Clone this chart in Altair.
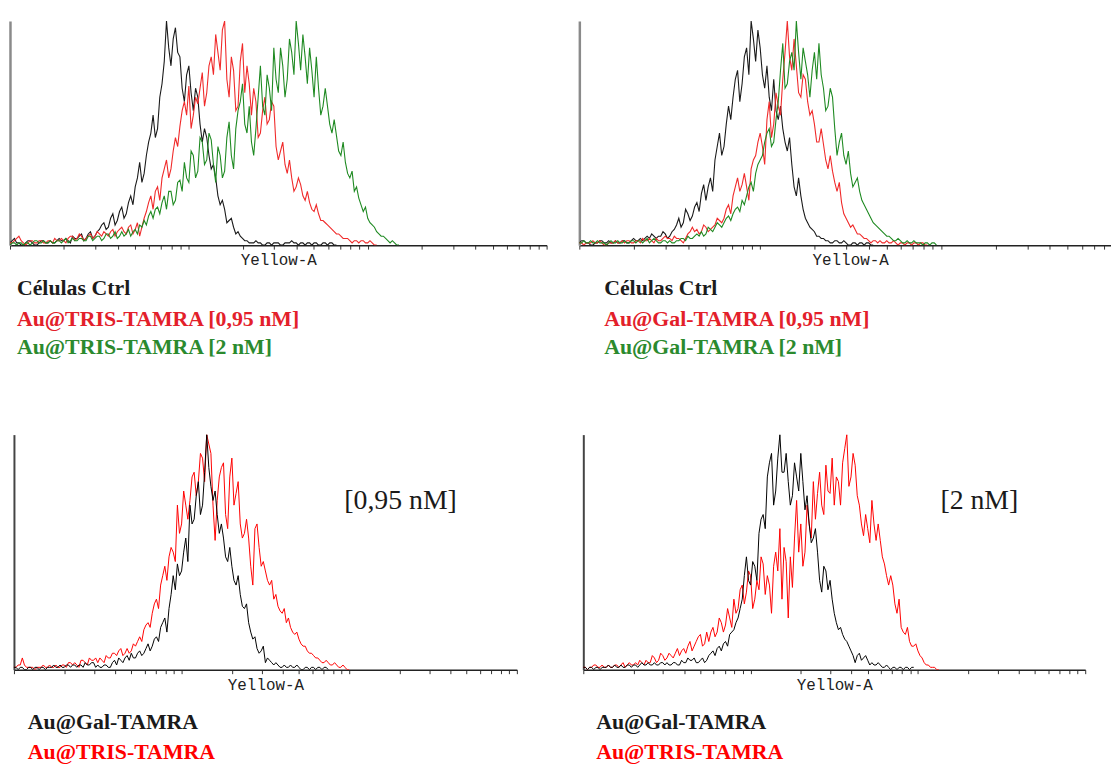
import math
import altair as alt
import pandas as pd

STEP = 0.025  # decades between the listed channels; *_mid lists hold the half-way channels

# ---------------- Panel A (top-left): Ctrl / Au@TRIS-TAMRA ----------------
a_ctrl = [1, 3, 1, 0, 2, 1, 0, 2, 1, 2,
          1, 3, 2, 2, 4, 3, 5, 3, 6, 4,
          7, 10, 8, 14, 11, 17, 14, 22, 26, 37,
          32, 46, 58, 52, 72, 100, 80, 97, 84, 64,
          80, 60, 66, 46, 48, 34, 30, 18, 16, 11,
          8, 6, 3, 2, 1, 2, 1, 0, 1, 1,
          1, 0, 1, 2, 1, 1, 0, 1, 1, 0,
          1, 0, 1, 0]
a_ctrl_mid = [2, 1, 0, 1, 2, 0, 1, 2, 1, 1,
              2, 2, 3, 1, 3, 4, 2, 5, 3, 6,
              9, 7, 12, 9, 15, 12, 19, 18, 30, 28,
              40, 50, 48, 66, 82, 88, 92, 86, 70, 76,
              68, 70, 54, 52, 40, 36, 22, 20, 10, 12,
              5, 4, 2, 1, 1, 1, 0, 1, 0, 1,
              0, 1, 1, 1, 0, 1, 1, 0, 1, 0,
              1, 1, 0]
a_tris095 = [1, 2, 4, 1, 1, 2, 1, 2, 1, 2,
             3, 2, 2, 3, 4, 3, 4, 3, 5, 4,
             5, 6, 4, 7, 6, 8, 5, 9, 7, 4,
             12, 19, 16, 26, 30, 38, 34, 48, 53, 64,
             71, 58, 63, 77, 68, 84, 94, 78, 100, 66,
             78, 62, 90, 80, 58, 64, 50, 66, 56, 62,
             38, 46, 32, 30, 26, 27, 20, 19, 15, 14,
             11, 9, 7, 5, 4, 3, 2, 2, 1, 2,
             1, 1, 0]
a_tris095_mid = [1, 3, 2, 0, 2, 1, 2, 1, 2, 1,
                 2, 3, 1, 4, 2, 5, 2, 4, 3, 6,
                 4, 5, 6, 4, 7, 6, 8, 5, 10, 8,
                 15, 22, 24, 20, 34, 30, 42, 44, 60, 58,
                 52, 66, 70, 62, 80, 76, 86, 96, 74, 84,
                 60, 82, 68, 72, 70, 48, 60, 54, 64, 44,
                 42, 36, 38, 24, 30, 22, 24, 16, 18, 11,
                 10, 8, 6, 5, 3, 3, 1, 2, 2, 1,
                 2, 0]
a_tris2 = [0, 1, 1, 0, 1, 1, 2, 1, 1, 2,
           1, 2, 2, 1, 3, 2, 3, 2, 4, 3,
           4, 3, 5, 4, 3, 6, 5, 4, 7, 9,
           11, 13, 12, 17, 19, 16, 24, 20, 29, 37,
           28, 40, 33, 46, 38, 47, 28, 40, 33, 55,
           34, 60, 72, 50, 46, 52, 80, 58, 70, 88,
           68, 80, 74, 86, 100, 78, 84, 88, 66, 70,
           62, 62, 50, 49, 40, 37, 30, 24, 21, 15,
           12, 9, 6, 4, 3, 1, 1, 0]
a_tris2_mid = [1, 0, 1, 1, 0, 2, 1, 2, 1, 1,
               2, 1, 3, 2, 2, 3, 2, 4, 2, 4,
               2, 5, 3, 6, 4, 4, 7, 6, 5, 8,
               9, 15, 16, 14, 22, 24, 18, 28, 24, 30,
               42, 30, 48, 36, 50, 36, 44, 30, 48, 40,
               52, 64, 54, 62, 40, 66, 62, 76, 60, 74,
               88, 66, 92, 76, 90, 94, 72, 78, 84, 58,
               70, 54, 56, 42, 46, 32, 33, 26, 18, 17,
               10, 8, 5, 4, 2, 2, 0]

# ---------------- Panel B (top-right): Ctrl / Au@Gal-TAMRA ----------------
b_ctrl = [1, 2, 1, 0, 1, 2, 1, 1, 2, 1,
          2, 1, 3, 2, 2, 4, 5, 3, 4, 5,
          4, 7, 12, 10, 14, 13, 19, 23, 20, 30,
          38, 50, 44, 62, 66, 78, 72, 88, 100, 82,
          88, 70, 66, 74, 56, 52, 42, 36, 22, 22,
          12, 8, 6, 4, 3, 2, 1, 2, 1, 1,
          0, 1, 1, 0, 1, 0]
b_ctrl_mid = [2, 1, 0, 1, 2, 1, 2, 1, 1, 2,
              1, 2, 2, 3, 3, 3, 4, 4, 6, 3,
              6, 9, 8, 16, 11, 17, 15, 27, 26, 24,
              44, 40, 54, 56, 74, 64, 84, 76, 92, 96,
              76, 80, 60, 60, 62, 46, 48, 26, 30, 16,
              10, 7, 4, 3, 2, 1, 2, 1, 2, 0,
              1, 0, 1, 1, 0]
b_gal095 = [1, 0, 1, 2, 1, 1, 0, 1, 2, 1,
            1, 2, 1, 2, 3, 2, 2, 3, 2, 4,
            3, 4, 3, 1, 5, 8, 7, 6, 8, 7,
            9, 11, 12, 18, 22, 30, 27, 26, 34, 40,
            50, 36, 64, 54, 62, 74, 100, 78, 80, 66,
            74, 58, 54, 46, 45, 34, 33, 24, 19, 12,
            8, 7, 5, 3, 2, 2, 1, 1, 2, 1,
            1, 1, 0, 1, 1, 0, 1, 0]
b_gal095_mid = [1, 1, 1, 1, 2, 0, 1, 1, 1, 2,
                2, 1, 2, 1, 2, 3, 1, 2, 3, 3,
                2, 3, 2, 3, 6, 6, 5, 9, 6, 8,
                12, 10, 16, 14, 26, 24, 32, 20, 38, 46,
                44, 56, 48, 68, 58, 86, 84, 92, 68, 76,
                64, 60, 46, 52, 38, 40, 28, 28, 14, 10,
                9, 5, 4, 3, 1, 2, 2, 1, 1, 2,
                0, 1, 1, 0, 1, 1, 0]
b_gal2 = [1, 2, 1, 1, 2, 1, 0, 2, 1, 1,
          2, 1, 2, 2, 1, 3, 2, 2, 1, 2,
          2, 1, 2, 3, 4, 3, 5, 6, 5, 7,
          8, 9, 10, 13, 14, 17, 20, 22, 28, 32,
          38, 46, 52, 46, 64, 90, 72, 86, 100, 74,
          82, 66, 86, 90, 70, 62, 66, 40, 50, 36,
          32, 28, 24, 18, 14, 10, 8, 6, 4, 3,
          2, 2, 1, 1, 2, 1, 0, 1, 1, 0]
b_gal2_mid = [1, 1, 2, 1, 1, 1, 1, 1, 2, 1,
              1, 2, 1, 2, 2, 1, 3, 1, 2, 1,
              1, 2, 3, 2, 3, 4, 4, 4, 8, 6,
              10, 8, 12, 11, 16, 15, 18, 26, 24, 36,
              40, 50, 44, 56, 78, 70, 82, 78, 86, 88,
              76, 78, 74, 76, 60, 70, 52, 46, 40, 42,
              26, 30, 20, 16, 12, 9, 7, 5, 4, 2,
              3, 1, 2, 1, 1, 1, 1, 0, 1]

# ---------------- Panel C (bottom-left): 0,95 nM ----------------
c_gal = [1, 0, 1, 0, 1, 1, 0, 1, 1, 1,
         1, 2, 1, 2, 2, 1, 2, 3, 2, 3,
         2, 1, 2, 1, 4, 5, 3, 6, 7, 5,
         8, 7, 11, 10, 14, 18, 22, 26, 40, 45,
         42, 56, 70, 64, 80, 70, 100, 78, 76, 58,
         56, 46, 44, 36, 32, 26, 20, 13, 9, 8,
         3, 4, 2, 2, 1, 1, 2, 1, 1, 0,
         1, 1, 0, 1, 1, 0]
c_gal_mid = [1, 1, 0, 1, 0, 1, 1, 0, 1, 2,
             1, 1, 2, 1, 2, 2, 1, 2, 3, 1,
             1, 2, 1, 3, 2, 4, 5, 4, 5, 7,
             6, 9, 8, 13, 12, 20, 16, 32, 34, 40,
             50, 46, 62, 74, 66, 84, 86, 72, 66, 62,
             48, 52, 38, 40, 27, 28, 16, 14, 7, 10,
             5, 3, 3, 1, 2, 1, 1, 2, 0, 1,
             0, 1, 1, 0, 1]
c_tris = [1, 2, 5, 1, 1, 0, 1, 2, 1, 1,
          2, 1, 2, 3, 2, 2, 4, 3, 5, 4,
          3, 4, 6, 5, 7, 8, 6, 9, 8, 10,
          14, 17, 20, 24, 30, 36, 44, 48, 50, 70,
          62, 70, 72, 84, 80, 90, 100, 92, 55, 82,
          88, 60, 90, 75, 62, 58, 56, 36, 62, 44,
          42, 36, 30, 27, 24, 20, 18, 15, 13, 10,
          8, 7, 5, 4, 3, 3, 2, 2, 1, 1,
          0]
c_tris_mid = [1, 2, 2, 1, 1, 1, 1, 1, 2, 1,
              1, 2, 1, 3, 3, 1, 4, 2, 4, 5,
              5, 3, 5, 7, 6, 9, 7, 7, 11, 12,
              12, 19, 18, 28, 26, 40, 38, 52, 46, 58,
              76, 64, 82, 74, 92, 80, 96, 70, 72, 86,
              66, 82, 70, 80, 56, 64, 44, 60, 52, 46,
              38, 38, 32, 25, 26, 22, 16, 16, 11, 10,
              7, 6, 5, 3, 4, 2, 3, 1, 2, 0]

# ---------------- Panel D (bottom-right): 2 nM ----------------
d_gal = [1, 0, 1, 1, 0, 1, 2, 1, 1, 2,
         1, 2, 2, 1, 3, 2, 2, 3, 2, 3,
         3, 2, 3, 2, 3, 5, 4, 3, 4, 3,
         6, 8, 9, 8, 12, 15, 17, 22, 30, 48,
         36, 44, 58, 66, 82, 92, 76, 100, 84, 80,
         74, 82, 92, 68, 62, 56, 50, 33, 42, 38,
         24, 17, 15, 12, 8, 3, 7, 5, 4, 3,
         2, 2, 1, 1, 1, 0, 1, 1, 0, 1]
d_gal_mid = [1, 1, 0, 1, 1, 1, 1, 2, 1, 1,
             2, 1, 2, 2, 2, 3, 2, 2, 3, 2,
             2, 3, 2, 4, 3, 4, 5, 3, 5, 4,
             7, 6, 10, 11, 10, 16, 20, 26, 40, 38,
             46, 38, 64, 60, 88, 70, 90, 84, 92, 70,
             88, 76, 80, 74, 54, 60, 38, 44, 34, 30,
             20, 18, 13, 10, 6, 6, 4, 6, 2, 2,
             3, 1, 2, 0, 1, 1, 0, 1, 1]
d_tris = [1, 0, 1, 2, 1, 1, 2, 1, 2, 2,
          1, 3, 2, 2, 3, 4, 3, 5, 4, 6,
          5, 6, 7, 6, 9, 10, 8, 12, 15, 11,
          12, 18, 16, 20, 19, 22, 30, 26, 36, 33,
          40, 30, 34, 45, 40, 24, 50, 60, 52, 22,
          35, 72, 62, 50, 62, 80, 75, 70, 87, 75,
          70, 80, 88, 100, 82, 87, 70, 57, 60, 72,
          55, 55, 45, 36, 36, 24, 18, 15, 12, 10,
          8, 5, 2, 1, 1, 0]
d_tris_mid = [1, 1, 2, 1, 2, 1, 1, 2, 1, 3,
              2, 2, 3, 4, 2, 3, 6, 3, 7, 4,
              7, 5, 9, 8, 7, 12, 10, 14, 10, 16,
              16, 14, 22, 16, 26, 18, 24, 34, 28, 42,
              26, 38, 48, 32, 36, 44, 42, 30, 46, 48,
              56, 50, 44, 70, 56, 64, 84, 66, 76, 90,
              82, 70, 94, 78, 92, 74, 62, 66, 54, 62,
              62, 48, 40, 40, 28, 30, 16, 18, 10, 11,
              6, 3, 2, 1, 0]

LEG_A = ["Células Ctrl", "Au@TRIS-TAMRA [0,95 nM]", "Au@TRIS-TAMRA [2 nM]"]
LEG_B = ["Células Ctrl", "Au@Gal-TAMRA [0,95 nM]", "Au@Gal-TAMRA [2 nM]"]
LEG_CD = ["Au@Gal-TAMRA", "Au@TRIS-TAMRA"]
CONC = ["[0,95 nM]", "[2 nM]"]
AXIS_TITLE = "Yellow-A"
DECADES = 3
MULTS = [1, 2, 3, 4, 5, 6, 7, 8, 9]

TOP_BLACK, TOP_RED, TOP_GREEN = "#1a1a1a", "#f02a2a", "#1f8a22"
TXT_BLACK, TXT_RED, TXT_GREEN = "#1c1c1c", "#e3202a", "#2b8a2e"


def tick_values(xmax):
    vals = [round(dec + math.log10(m), 4) for dec in range(DECADES) for m in MULTS]
    vals.append(float(DECADES))
    return [v for v in vals if v <= xmax + 1e-9]


def series_df(vals, mids):
    merged = []
    for i, v in enumerate(vals):
        merged.append(v)
        if i < len(mids):
            merged.append(mids[i])
    half = STEP / 2
    return pd.DataFrame({"d": [round(j * half, 5) for j in range(len(merged))], "v": merged})


def panel(curves, width, height, xmax, ycol, ywid, texts, shift=0, title_x=None):
    xk = dict(values=tick_values(xmax), labels=False, title=AXIS_TITLE,
              titleFont="Liberation Mono", titleFontSize=16, titleFontWeight="normal",
              titleColor="#222222", titlePadding=2, tickSize=4, tickColor="#333333",
              tickWidth=1, domainColor="#222222", domainWidth=1.5, grid=False)
    if title_x is not None:
        xk["titleX"] = title_x
    xaxis = alt.Axis(**xk)
    yk = dict(labels=False, ticks=False, title="", grid=False, domainColor=ycol,
              domainWidth=ywid, minExtent=1, maxExtent=1)
    if shift:
        yk["offset"] = -shift
    yaxis = alt.Axis(**yk)
    xscale = alt.Scale(domain=[0, xmax], nice=False, zero=False, range=[shift, width])
    layers = []
    for vals, mids, color, sw in curves:
        layers.append(
            alt.Chart(series_df(vals, mids)).mark_line(color=color, strokeWidth=sw, clip=True).encode(
                x=alt.X("d:Q", scale=xscale, axis=xaxis),
                y=alt.Y("v:Q", scale=alt.Scale(domain=[0, 100], nice=False), axis=yaxis),
            )
        )
    for label, x, y, size, weight, color in texts:
        layers.append(
            alt.Chart(pd.DataFrame({"label": [label]})).mark_text(
                align="left", baseline="middle", font="Liberation Serif",
                fontSize=size, fontWeight=weight, color=color
            ).encode(x=alt.value(x), y=alt.value(y), text="label:N")
        )
    return alt.layer(*layers).properties(width=width, height=height)


pA = panel([(a_ctrl, a_ctrl_mid, TOP_BLACK, 1.1),
            (a_tris095, a_tris095_mid, TOP_RED, 1.1),
            (a_tris2, a_tris2_mid, TOP_GREEN, 1.1)],
           541, 226, 3.0, "#8a8a8a", 2.5,
           [(LEG_A[0], 7, 269, 22, "bold", TXT_BLACK),
            (LEG_A[1], 7, 300, 22, "bold", TXT_RED),
            (LEG_A[2], 7, 329, 22, "bold", TXT_GREEN)])
pB = panel([(b_ctrl, b_ctrl_mid, TOP_BLACK, 1.1),
            (b_gal095, b_gal095_mid, TOP_RED, 1.1),
            (b_gal2, b_gal2_mid, TOP_GREEN, 1.1)],
           536, 226, 2.94, "#8a8a8a", 2.5,
           [(LEG_B[0], 25, 269, 22, "bold", TXT_BLACK),
            (LEG_B[1], 25, 300, 22, "bold", TXT_RED),
            (LEG_B[2], 25, 329, 22, "bold", TXT_GREEN)], title_x=273)
pC = panel([(c_tris, c_tris_mid, "#ff0000", 1.0), (c_gal, c_gal_mid, "#000000", 1.0)],
           511, 237, 3.0, "#444444", 2,
           [(CONC[0], 337, 67, 28, "normal", "#1a1a1a"),
            (LEG_CD[0], 18, 290, 22, "bold", "#1a1a1a"),
            (LEG_CD[1], 18, 320, 22, "bold", "#ff0000")], shift=4)
pD = panel([(d_tris, d_tris_mid, "#ff0000", 1.0), (d_gal, d_gal_mid, "#000000", 1.0)],
           506, 237, 3.0, "#444444", 2,
           [(CONC[1], 360, 67, 28, "normal", "#1a1a1a"),
            (LEG_CD[0], 13, 290, 22, "bold", "#1a1a1a"),
            (LEG_CD[1], 13, 320, 22, "bold", "#ff0000")])

top = alt.hconcat(pA, pB, spacing=31)
bottom = alt.hconcat(pC, pD, spacing=65)
chart = (
    alt.vconcat(top, bottom, spacing=77)
    .properties(padding={"left": 1, "top": 10, "right": 0, "bottom": 0}, background="white")
    .configure_view(strokeOpacity=0)
)

chart.save("out.html", embed_options={"renderer": "svg", "actions": False})
